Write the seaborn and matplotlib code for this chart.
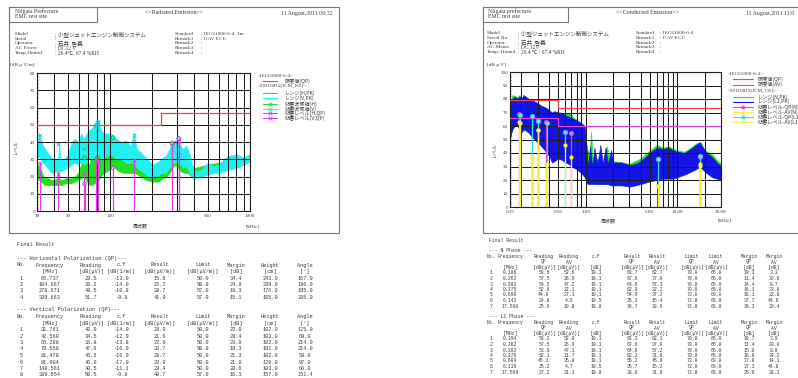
import matplotlib
matplotlib.use("Agg")
import matplotlib.pyplot as plt
import seaborn as sns
from matplotlib.lines import Line2D
from matplotlib.patches import Rectangle
from matplotlib.ticker import FixedLocator, FixedFormatter, NullFormatter, MultipleLocator

sns.set_theme(style="white")
JP = ["Noto Sans CJK JP", "DejaVu Sans"]
SERIF = ["Liberation Serif", "Noto Sans CJK JP"]
MONO = ["Liberation Mono", "Noto Sans CJK JP"]
plt.rcParams["font.family"] = JP

TEXT = "#3c3c3c"
EDGE = "#7a7a7a"
GRID = "#1e1e1e"

# ---------------- radiated emission (left page) ----------------
re_h_freq = [30, 31, 32, 33, 34, 36, 38, 40, 42, 42.6, 43.2, 45, 48, 52, 56, 59, 62, 65, 68, 71,
             74, 77, 80, 83, 86, 90, 95, 100, 104, 108, 115, 125, 135, 150, 165, 180, 200, 220, 240, 260,
             275, 290, 305, 320, 340, 360, 380, 400, 450, 500, 600, 700, 800, 900, 1000]
re_h_low = [19, 18, 17, 16, 15, 15, 15, 15, 15, 16, 15, 15, 16, 16, 17, 18, 19, 20, 17, 15,
            15, 16, 17, 18, 20, 22, 23, 24, 26, 25, 23, 22, 22, 22, 20, 18, 17, 17, 19, 21,
            24, 27, 25, 23, 22, 22, 20, 20, 21, 22, 23, 24, 25, 27, 29]
re_h_high = [27, 26, 24, 21, 19, 19, 18, 18, 19, 24, 19, 18, 19, 19, 20, 22, 27, 30, 29, 27,
             33, 35, 36, 35, 33, 34, 35, 37, 42, 40, 36, 35, 37, 36, 34, 28, 25, 24, 27, 30,
             35, 41, 37, 34, 36, 33, 27, 25, 26, 27, 28, 29, 30, 31, 32]

re_v_freq = [30, 31, 32, 33, 35, 37, 39, 41, 42.6, 43.2, 44, 47, 50, 53, 56, 59, 62, 65, 68, 71,
             74, 77, 80, 83, 86, 90, 95, 100, 105, 110, 120, 130, 140, 148, 155, 170, 185, 200, 215, 230,
             250, 265, 280, 295, 310, 330, 350, 370, 390, 410, 450, 500, 550, 600, 650, 700, 800, 900, 1000]
re_v_low = [30, 32, 30, 28, 26, 23, 22, 23, 23, 23, 23, 24, 25, 27, 28, 27, 28, 27, 28, 30,
            30, 31, 33, 32, 30, 30, 32, 33, 32, 30, 30, 28, 28, 28, 25, 23, 20, 20, 20, 22,
            22, 25, 28, 28, 28, 25, 26, 22, 19, 19, 20, 21, 22, 22, 23, 24, 25, 27, 29]
re_v_high = [38, 45, 42, 38, 35, 32, 30, 30, 31, 40, 30, 30, 33, 40, 42, 40, 45, 42, 45, 47,
             48, 50, 53, 52, 47, 45, 45, 45, 44, 42, 40, 41, 38, 45, 36, 33, 30, 27, 28, 30,
             32, 36, 40, 41, 40, 36, 38, 33, 25, 23, 24, 28, 26, 27, 30, 32, 33, 31, 33]

re_limit_freq = [30, 230, 1000]
re_limit_qp = [50, 57, 57]

re_hcand_freq = [65.737, 104.667, 278.671, 309.663]
re_hcand_level = [31.0, 42.5, 39.5, 42.0]
re_vcand_freq = [31.761, 42.560, 65.288, 79.558, 81.478, 81.904, 148.561, 309.654]
re_vcand_level = [44.0, 39.0, 36.0, 50.0, 51.0, 52.0, 44.0, 41.5]

re_h_qp_freq = [65.737, 104.667, 278.671, 309.663]
re_h_reading = [29.5, 39.2, 49.5, 51.7]
re_h_cf = [-13.9, -14.0, -10.8, -9.8]
re_h_result = [15.6, 25.2, 38.7, 41.9]
re_h_limit = [50.0, 50.0, 57.0, 57.0]
re_h_margin = [34.4, 24.8, 18.3, 15.1]
re_h_height = [243.0, 299.0, 176.0, 105.0]
re_h_angle = [167.0, 186.0, 195.0, 205.0]

re_v_qp_freq = [31.761, 42.560, 65.288, 79.558, 81.478, 81.904, 148.561, 309.654]
re_v_reading = [42.0, 34.5, 35.8, 47.6, 45.6, 46.0, 40.5, 50.5]
re_v_cf = [-14.0, -12.9, -13.8, -16.9, -16.9, -17.0, -11.1, -9.8]
re_v_result = [28.0, 21.6, 22.0, 30.7, 28.7, 29.0, 29.4, 40.7]
re_v_limit = [50.0, 50.0, 50.0, 50.0, 50.0, 50.0, 50.0, 57.0]
re_v_margin = [22.0, 28.4, 28.0, 19.3, 21.3, 21.0, 20.6, 16.3]
re_v_height = [102.0, 103.0, 102.0, 101.0, 102.0, 120.0, 103.0, 157.0]
re_v_angle = [125.0, 69.0, 214.0, 214.0, 58.0, 97.0, 66.0, 251.4]

# ---------------- conducted emission (right page) ----------------
ce_n_freq = [0.15, 0.16, 0.17, 0.18, 0.19, 0.2, 0.22, 0.24, 0.26, 0.28,
             0.3, 0.33, 0.36, 0.4, 0.45, 0.5, 0.55, 0.6, 0.65, 0.7,
             0.75, 0.8, 0.9, 0.98, 1.02, 1.1, 1.15, 1.2, 1.3, 1.5,
             1.7, 1.9, 2.0, 2.5, 3.0, 4.0, 5.0, 6.0, 7.0, 8.0,
             10, 12, 14, 16, 18, 20, 24, 27, 30]
ce_n_low = [52, 58, 60, 60, 58, 56, 57, 55, 52, 50, 48, 45, 42, 38, 35, 36, 35, 40, 45, 50,
            45, 30, 26, 23, 19, 18, 18, 18, 17, 17, 17, 16, 16, 16, 16, 18, 20, 21, 22, 22,
            23, 25, 27, 29, 29, 26, 23, 22, 21]
ce_n_high = [78, 83, 82, 81, 83, 81, 82, 80, 79, 77, 75, 73, 72, 70, 69, 70, 68, 69, 70, 68,
             66, 65, 62, 60, 47, 35, 56, 33, 36, 33, 45, 32, 34, 33, 32, 36, 42, 46, 44, 45,
             42, 41, 44, 47, 48, 42, 39, 35, 32]

ce_l1_freq = [0.15, 0.155, 0.16, 0.17, 0.18, 0.19, 0.2, 0.21, 0.22, 0.24,
              0.26, 0.28, 0.3, 0.33, 0.36, 0.4, 0.43, 0.46, 0.5, 0.55,
              0.6, 0.65, 0.7, 0.8, 0.9, 0.98, 1.02, 1.06, 1.12, 1.18,
              1.25, 1.35, 1.45, 1.55, 1.65, 1.75, 1.9, 2.0, 2.5, 3.0,
              3.5, 4.0, 4.5, 5.0, 6.0, 7.0, 8.0, 9.0, 10, 12,
              14, 16, 17.5, 19, 21, 24, 27, 30]
ce_l1_low = [50, 55, 58, 60, 60, 58, 55, 58, 57, 55, 52, 50, 48, 45, 42, 38, 33, 34, 36, 35,
             33, 32, 30, 28, 25, 22, 18, 17, 17, 17, 17, 17, 17, 17, 17, 17, 16, 16, 16, 15,
             16, 17, 18, 19, 20, 21, 21, 21, 22, 24, 26, 28, 30, 28, 25, 22, 21, 20]
ce_l1_high = [75, 80, 80, 82, 80, 82, 80, 83, 82, 80, 80, 78, 77, 75, 74, 72, 70, 71, 70, 70,
              68, 67, 66, 64, 62, 60, 45, 30, 45, 30, 44, 32, 46, 31, 44, 32, 42, 33, 33, 31,
              32, 34, 37, 40, 44, 43, 44, 42, 41, 40, 43, 46, 48, 44, 40, 37, 33, 30]

ce_limit_freq = [0.15, 0.5, 30]
ce_limit_qp = [79, 73, 73]
ce_limit_av = [66, 60, 60]

ce_n_qfreq = [0.186, 0.262, 0.302, 0.375, 0.690, 6.142, 17.508]
ce_n_read_qp = [58.6, 57.5, 54.5, 52.8, 44.8, 24.8, 25.9]
ce_n_read_av = [52.6, 26.9, 47.2, 22.1, 27.1, 4.9, 19.8]
ce_n_cf = [10.1, 10.1, 10.1, 10.1, 10.1, 10.5, 10.8]
ce_n_res_qp = [68.7, 67.6, 64.6, 62.9, 54.9, 35.3, 36.7]
ce_n_res_av = [62.7, 37.0, 57.3, 32.2, 37.2, 15.4, 30.6]
ce_n_lim_qp = [79.0, 79.0, 79.0, 79.0, 73.0, 73.0, 73.0]
ce_n_lim_av = [66.0, 66.0, 66.0, 66.0, 60.0, 60.0, 60.0]
ce_n_mar_qp = [10.3, 11.4, 14.4, 16.1, 18.1, 37.7, 36.3]
ce_n_mar_av = [3.3, 29.0, 8.7, 33.8, 22.8, 44.6, 29.4]

ce_l1_qfreq = [0.194, 0.262, 0.302, 0.376, 0.604, 6.139, 17.509]
ce_l1_read_qp = [58.2, 57.5, 53.9, 52.1, 45.1, 25.2, 27.2]
ce_l1_read_av = [52.0, 26.9, 47.1, 21.7, 35.8, 4.7, 21.1]
ce_l1_cf = [10.1, 10.1, 10.1, 10.1, 10.1, 10.5, 10.8]
ce_l1_res_qp = [68.3, 67.6, 64.0, 62.2, 55.2, 35.7, 38.0]
ce_l1_res_av = [62.1, 37.0, 57.2, 31.8, 45.9, 15.2, 31.9]
ce_l1_lim_qp = [79.0, 79.0, 79.0, 79.0, 73.0, 73.0, 73.0]
ce_l1_lim_av = [66.0, 66.0, 66.0, 66.0, 60.0, 60.0, 60.0]
ce_l1_mar_qp = [10.7, 11.4, 15.0, 16.8, 17.8, 37.3, 35.0]
ce_l1_mar_av = [3.9, 29.0, 8.8, 34.2, 14.1, 44.8, 28.1]

W, H = 798, 378
fig = plt.figure(figsize=(W / 100, H / 100), dpi=100)
fig.patch.set_facecolor("white")


def fx(px):
    return px / W


def fy(py):
    return 1 - py / H


def put(px, py, s, fs=3.8, family=SERIF, ha="left", **kw):
    fig.text(fx(px), fy(py), s, fontsize=fs, family=family, ha=ha, va="center", color=TEXT, **kw)


def box(x0, y0, x1, y1, lw=0.8):
    fig.add_artist(Rectangle((fx(x0), fy(y1)), fx(x1) - fx(x0), fy(y0) - fy(y1),
                             transform=fig.transFigure, fill=False, ec=EDGE, lw=lw))


def legend_row(x0, x1, y, **style):
    xm = (x0 + x1) / 2
    fig.add_artist(Line2D([fx(x0), fx(xm), fx(x1)], [fy(y)] * 3, transform=fig.transFigure,
                          markevery=[1], **style))


def setup_axes(ax, xlim, ylim, major, labels, minor, ystep):
    ax.set_xscale("log")
    ax.set_xlim(*xlim)
    ax.set_ylim(*ylim)
    ax.xaxis.set_major_locator(FixedLocator(major))
    ax.xaxis.set_major_formatter(FixedFormatter(labels))
    ax.xaxis.set_minor_locator(FixedLocator(minor))
    ax.xaxis.set_minor_formatter(NullFormatter())
    ax.yaxis.set_major_locator(MultipleLocator(ystep))
    ax.yaxis.set_minor_locator(MultipleLocator(ystep / 5))
    ax.set_axisbelow(False)
    ax.grid(True, which="both", axis="x", color=GRID, lw=0.75)
    ax.grid(True, which="major", axis="y", color=GRID, lw=0.75)
    ax.tick_params(which="both", labelsize=3.6, labelcolor=TEXT, pad=1.5)
    ax.tick_params(axis="x", which="both", length=0, pad=2.5)
    ax.tick_params(axis="y", which="major", direction="in", length=2, width=0.5, left=True)
    ax.tick_params(axis="y", which="minor", direction="in", length=1, width=0.4, left=True)
    for lab in ax.get_xticklabels() + ax.get_yticklabels():
        lab.set_fontfamily(SERIF)
    for s in ax.spines.values():
        s.set_color(GRID)
        s.set_linewidth(0.8)
    ax.set_xlabel("")
    ax.set_ylabel("")


# ---------------- page frames and headers ----------------
box(9, 7, 339, 233)
box(9, 7, 97, 22)
box(483, 7, 830, 233)
box(483, 7, 568, 22)

HFS = 4.2
put(15, 11, "Niigata Prefecture", fs=HFS)
put(15, 16.5, "EMC test site", fs=HFS)
put(174, 13, "<<Radiated Emission>>", fs=HFS, ha="center")
put(333, 13, "11 August,2011 09:32", fs=HFS, ha="right")

put(488, 11, "Niigata prefecture", fs=HFS)
put(488, 16.5, "EMC test site", fs=HFS)
put(647, 13, "<<Conducted Emission>>", fs=HFS, ha="center")
put(746, 13, "11 August,2011 11:0", fs=HFS)

left_meta_labels = ["Model", "Serial", "Operator", "AC Power", "Temp,Humid"]
left_meta_values = [": 小型ジェットエンジン制御システム", ":", ": 石井  啓義", ": DC12 V", ": 26.4℃, 67.4 %RH"]
left_std_labels = ["Standard", "Remark1", "Remark2", "Remark3", "Remark4"]
left_std_values = [": IEC61000-6-4  3m", ": UAV ECU", ":", ":", ":"]
right_meta_labels = ["Model", "Serial No.", "Operator", "AC Mains", "Temp./Humid."]
right_meta_values = [": 小型ジェットエンジン制御システム", ":", ": 石井  啓義", ": DC 12V", ": 26.4 ℃ / 67.4 %RH"]
right_std_values = [": IEC61000-6-4", ": UAV ECU", ":", ":", ":"]
meta_y = [34, 38.7, 43.4, 48.1, 52.8]

for i, y in enumerate(meta_y):
    put(15, y, left_meta_labels[i])
    put(55, y, left_meta_values[i], fs=4.0)
    put(175, y, left_std_labels[i])
    put(201, y, left_std_values[i])
    put(487, y - 0.6, right_meta_labels[i])
    put(518, y - 0.6, right_meta_values[i], fs=4.0)
    put(636, y - 0.6, left_std_labels[i])
    put(660, y - 0.6, right_std_values[i])

put(10, 65, "[dB μ V/m]")
put(487, 65, "[dB μ V]")

# ---------------- left chart: radiated emission ----------------
ax1 = fig.add_axes([fx(37), fy(211), fx(250) - fx(37), (211 - 73) / H])
ax1.fill_between(re_h_freq, re_h_low, re_h_high, color="#22e022", lw=0.4, zorder=1)
ax1.fill_between(re_v_freq, re_v_low, re_v_high, color="#22f0f0", lw=0.4, zorder=1.5)
sns.lineplot(x=re_limit_freq, y=re_limit_qp, drawstyle="steps-post", color="#f04848", lw=0.9,
             ax=ax1, zorder=3)
ax1.vlines(re_h_qp_freq, 0, re_h_result, color="#e040e0", lw=0.9, zorder=4)
ax1.vlines(re_v_qp_freq, 0, re_v_result, color="#e040e0", lw=0.9, zorder=4)
sns.scatterplot(x=re_hcand_freq, y=re_hcand_level, marker="o", s=7, facecolor="none",
                edgecolor="#18c018", linewidth=0.6, ax=ax1, zorder=5)
sns.scatterplot(x=re_vcand_freq, y=re_vcand_level, marker="x", s=6, color="#10c8d8",
                linewidth=0.6, ax=ax1, zorder=5)
sns.scatterplot(x=re_h_qp_freq, y=re_h_result, marker="o", s=7, facecolor="none",
                edgecolor="#e040e0", linewidth=0.7, ax=ax1, zorder=6)
sns.scatterplot(x=re_v_qp_freq, y=re_v_result, marker="x", s=7, color="#e040e0",
                linewidth=0.7, ax=ax1, zorder=6)
setup_axes(ax1, (30, 1000), (0, 80), [30, 50, 100, 500, 1000], ["30", "50", "100", "500", "1000"],
           [40, 60, 70, 80, 90, 200, 300, 400, 600, 700, 800, 900], 10)

put(15, 147, "レベル", fs=3.5, family=JP, ha="center", rotation=90)
put(140, 226, "周波数", fs=3.6, family=JP, ha="center")
put(252, 226, "[MHz]", fs=3.6, ha="center")

# left legend
LFS = 3.7
put(258, 75.7, "<IEC61000-6-4>", fs=LFS)
legend_row(263, 277, 81, color="#f04848", lw=0.8)
put(285, 81, "限度値(QP)", fs=LFS, family=JP)
put(258, 85.7, "<20110811[JCM_RE]>", fs=LFS)
left_leg = [
    (93.3, "レンジ(H,PK)", dict(color="#22e022", lw=0.8)),
    (98.3, "レンジ(V,PK)", dict(color="#22f0f0", lw=0.8)),
    (104.3, "妨害波候補(H)", dict(color="#22e022", lw=0.8, marker="o", ms=2.2, mfc="none", mew=0.6)),
    (108.8, "妨害波候補(V)", dict(color="#22f0f0", lw=0.8, marker="x", ms=2.2, mew=0.6)),
    (113.3, "妨害レベル(H,QP)", dict(color="#e040e0", lw=0.8, marker="o", ms=2.2, mfc="none", mew=0.6)),
    (118.3, "妨害レベル(V,QP)", dict(color="#e040e0", lw=0.8, marker="x", ms=2.2, mew=0.6)),
]
for y, label, style in left_leg:
    legend_row(263, 277, y, **style)
    put(285, y, label, fs=LFS, family=JP)

# ---------------- right chart: conducted emission ----------------
ax2 = fig.add_axes([fx(510), fy(207), fx(721) - fx(510), (207 - 72) / H])
ax2.fill_between(ce_n_freq, ce_n_low, ce_n_high, color="#20e020", lw=0.4, zorder=1)
ax2.fill_between(ce_l1_freq, ce_l1_low, ce_l1_high, color="#1414e6", lw=0.4, zorder=1.5)
sns.lineplot(x=ce_limit_freq, y=ce_limit_qp, drawstyle="steps-post", color="#f04848", lw=0.9,
             ax=ax2, zorder=3)
sns.lineplot(x=ce_limit_freq, y=ce_limit_av, drawstyle="steps-post", color="#e040e0", lw=0.9,
             ax=ax2, zorder=3)
ax2.vlines(ce_n_qfreq, 0, ce_n_res_qp, color="#e040e0", lw=0.9, zorder=4)
ax2.vlines(ce_l1_qfreq, 0, ce_l1_res_qp, color="#40d0f8", lw=0.9, zorder=4)
ax2.vlines(ce_n_qfreq, 0, ce_n_res_av, color="#f8f040", lw=0.9, zorder=5)
ax2.vlines(ce_l1_qfreq, 0, ce_l1_res_av, color="#f8f040", lw=0.9, zorder=5)
sns.scatterplot(x=ce_n_qfreq, y=ce_n_res_av, marker="o", s=9, color="#f8f040", linewidth=0,
                ax=ax2, zorder=6)
sns.scatterplot(x=ce_l1_qfreq, y=ce_l1_res_av, marker="o", s=9, color="#f8f040", linewidth=0,
                ax=ax2, zorder=6)
sns.scatterplot(x=ce_n_qfreq, y=ce_n_res_qp, marker="o", s=12, color="#e070e0", linewidth=0,
                ax=ax2, zorder=6)
sns.scatterplot(x=ce_l1_qfreq, y=ce_l1_res_qp, marker="o", s=12, color="#80d8ff",
                edgecolor="#3090e8", linewidth=0.5, ax=ax2, zorder=7)
setup_axes(ax2, (0.15, 30), (0, 100), [0.15, 0.5, 1, 5, 10, 30],
           ["0.15", "0.50", "1.00", "5.00", "10.00", "30.00"],
           [0.2, 0.3, 0.4, 0.6, 0.7, 0.8, 0.9, 2, 3, 4, 6, 7, 8, 9, 20], 10)

put(494, 150, "レベル", fs=3.5, family=JP, ha="center", rotation=90)
put(608, 221, "周波数", fs=3.6, family=JP, ha="center")
put(725, 221, "[MHz]", fs=3.6, ha="center")

# right legend
right_leg = [
    (74.0, "<IEC61000-6-4>", None),
    (79.3, "限度値(QP)", dict(color="#f04848", lw=0.8)),
    (84.6, "限度値(AV)", dict(color="#e040e0", lw=0.8)),
    (89.9, "<20110811[JCM_CE]>", None),
    (96.8, "レンジ(N,PK)", dict(color="#20e020", lw=0.8)),
    (101.6, "レンジ(L1,PK)", dict(color="#1414e6", lw=0.8)),
    (106.9, "妨害レベル-QP(N)", dict(color="#e040e0", lw=0.8, marker="o", ms=2.2, mew=0.6)),
    (111.9, "妨害レベル-AV(N)", dict(color="#f8f040", lw=0.8, marker="o", ms=2.2, mew=0.6)),
    (116.9, "妨害レベル-QP(L1)", dict(color="#40d0f8", lw=0.8, marker="o", ms=2.2, mew=0.6)),
    (121.9, "妨害レベル-AV(L1)", dict(color="#f8f040", lw=0.8, marker="o", ms=2.2, mew=0.6)),
]
for y, label, style in right_leg:
    if style is None:
        put(728, y, label, fs=LFS)
    else:
        legend_row(733, 753, y, **style)
        put(758, y, label, fs=LFS, family=JP)


# ---------------- result tables ----------------
def table_rows(cols, lines, ys, fs):
    for line, y in zip(lines, ys):
        for x, cell in zip(cols, line):
            if cell:
                put(x, y, cell, fs=fs, family=MONO, ha="center")


def f1(v):
    return f"{v:.1f}"


left_cols = [21, 50, 91, 121, 160, 203, 236, 270, 305]
left_head = ["No.", "Frequency", "Reading", "c.f", "Result", "Limit", "Margin", "Height", "Angle"]
left_units = ["", "[MHz]", "[dB(μV)]", "[dB(1/m)]", "[dB(μV/m)]", "[dB(μV/m)]", "[dB]", "[cm]", "[°]"]
TFS = 3.8

put(17, 244, "Final Result", fs=TFS, family=MONO)
put(17, 258.5, "--- Horizontal Polarization (QP)---", fs=TFS, family=MONO)
h_lines = [left_head, left_units] + [
    [str(i + 1), f"{re_h_qp_freq[i]:.3f}", f1(re_h_reading[i]), f1(re_h_cf[i]), f1(re_h_result[i]),
     f1(re_h_limit[i]), f1(re_h_margin[i]), f1(re_h_height[i]), f1(re_h_angle[i])]
    for i in range(len(re_h_qp_freq))]
table_rows(left_cols, h_lines, [265 + 6.5 * i for i in range(len(h_lines))], TFS)

put(17, 310, "--- Vertical Polarization (QP)---", fs=TFS, family=MONO)
v_lines = [left_head, left_units] + [
    [str(i + 1), f"{re_v_qp_freq[i]:.3f}", f1(re_v_reading[i]), f1(re_v_cf[i]), f1(re_v_result[i]),
     f1(re_v_limit[i]), f1(re_v_margin[i]), f1(re_v_height[i]), f1(re_v_angle[i])]
    for i in range(len(re_v_qp_freq))]
table_rows(left_cols, v_lines, [316.5 + 6.5 * i for i in range(len(v_lines))], TFS)

right_cols = [491, 510, 544, 569, 596, 632, 657, 692, 716, 749, 774]
right_head = ["No.", "Frequency", "Reading", "Reading", "c.f", "Result", "Result", "Limit", "Limit",
              "Margin", "Margin"]
right_sub = ["", "", "QP", "AV", "", "QP", "AV", "QP", "AV", "QP", "AV"]
right_units = ["", "[MHz]", "[dB(μV)]", "[dB(μV)]", "[dB]", "[dB(μV)]", "[dB(μV)]", "[dB(μV)]",
               "[dB(μV)]", "[dB]", "[dB]"]
RFS = 3.4


def phase_lines(fr, rq, ra, cf, sq, sa, lq, la, mq, ma):
    return [right_head, right_sub, right_units] + [
        [str(i + 1), f"{fr[i]:.3f}", f1(rq[i]), f1(ra[i]), f1(cf[i]), f1(sq[i]), f1(sa[i]),
         f1(lq[i]), f1(la[i]), f1(mq[i]), f1(ma[i])] for i in range(len(fr))]


put(489, 240, "Final Result", fs=RFS, family=MONO)
put(489, 251, "--- N Phase ---", fs=RFS, family=MONO)
n_lines = phase_lines(ce_n_qfreq, ce_n_read_qp, ce_n_read_av, ce_n_cf, ce_n_res_qp, ce_n_res_av,
                      ce_n_lim_qp, ce_n_lim_av, ce_n_mar_qp, ce_n_mar_av)
table_rows(right_cols, n_lines, [256.5 + 5.5 * i for i in range(len(n_lines))], RFS)

put(489, 317, "--- L1 Phase ---", fs=RFS, family=MONO)
l1_lines = phase_lines(ce_l1_qfreq, ce_l1_read_qp, ce_l1_read_av, ce_l1_cf, ce_l1_res_qp, ce_l1_res_av,
                       ce_l1_lim_qp, ce_l1_lim_av, ce_l1_mar_qp, ce_l1_mar_av)
table_rows(right_cols, l1_lines, [322.5 + 5.5 * i for i in range(len(l1_lines))], RFS)

fig.savefig("out.png", dpi=100, facecolor="white")
